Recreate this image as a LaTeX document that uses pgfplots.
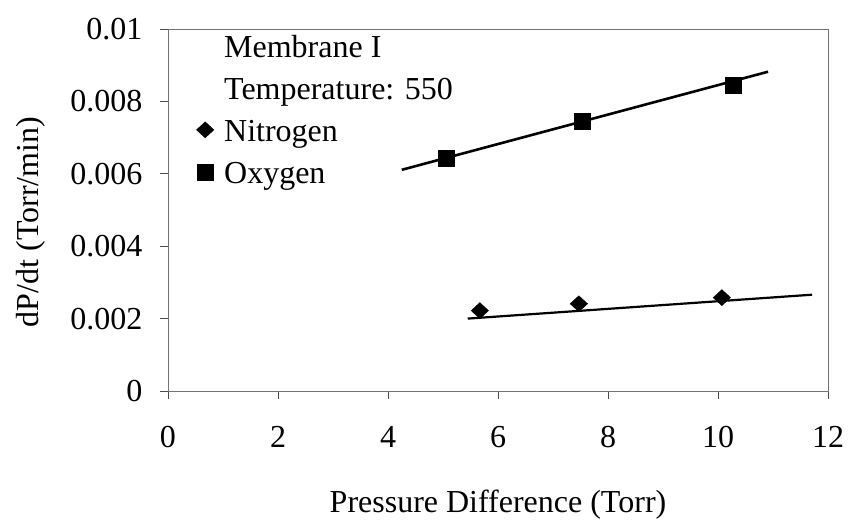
\documentclass[border=0pt]{standalone}
\usepackage{fontspec}
\setmainfont{Liberation Serif}
\usepackage{pgfplots}
\pgfplotsset{compat=1.18}
\usetikzlibrary{calc}

\begin{document}
\begin{tikzpicture}
\begin{axis}[
  scale only axis, width=660pt, height=362pt,
  xmin=0, xmax=12, ymin=0, ymax=0.01,
  scaled y ticks=false,
  xtick={0,2,...,12}, ytick={0,0.002,0.004,0.006,0.008,0.01},
  yticklabels={0,0.002,0.004,0.006,0.008,0.01},
  xticklabels={0,2,4,6,8,10,12},
  xtick pos=bottom, ytick pos=left, tick align=outside,
  major tick length=8pt,
  axis line style={draw=black!55, line width=0.8pt},
  tick style={draw=black!70, line width=0.8pt},
  font=\fontsize{32}{37}\selectfont,
  ticklabel style={font=\fontsize{32}{37}\selectfont},
  yticklabel style={xshift=-14pt},
  xticklabel style={yshift=-24pt},
  xlabel={Pressure Difference (Torr)},
  ylabel={dP/dt (Torr/min)},
  xlabel style={at={(axis description cs:0.5,-0.337)}, anchor=base},
  ylabel style={at={(axis description cs:-0.2076,0.467)}, anchor=center},
  legend cell align=left,
  legend style={draw=none, fill=none, inner sep=0pt, at={(rel axis cs:0.0424,0.983)}, anchor=north west,
    row sep=13pt, nodes={inner sep=0pt, text height=22pt, text depth=7pt, font=\fontsize{32}{37}\selectfont}},
  legend image code/.code={\path[draw=none,fill=none] (-9pt,-9pt) rectangle (19pt,9pt); \draw[#1] plot coordinates {(0pt,4pt)};},
]
\addlegendimage{empty legend}\addlegendentry{Membrane I}
\addlegendimage{empty legend}\addlegendentry{Temperature: 550}

% data points
\addplot[only marks, mark=diamond*, mark size=8pt, mark options={xscale=1.45, fill=black, draw=black}]
  coordinates {(5.67,0.00222) (7.47,0.00241) (10.07,0.00258)};
\addlegendentry{Nitrogen}
\addplot[only marks, mark=square*, mark size=8pt, mark options={fill=black, draw=black}]
  coordinates {(5.05,0.00644) (7.53,0.00745) (10.27,0.00844)};
\addlegendentry{Oxygen}

% fit lines
\addplot[black, line width=2.2pt, forget plot] coordinates {(5.45,0.00200) (11.71,0.00266)};
\addplot[black, line width=2.6pt, forget plot] coordinates {(4.25,0.00611) (10.91,0.00882)};
\end{axis}
\pgfresetboundingbox
\path[use as bounding box] ($(current axis.south west)+(-168pt,-130pt)$) rectangle ($(current axis.south west)+(682pt,391pt)$);
\end{tikzpicture}
\end{document}
